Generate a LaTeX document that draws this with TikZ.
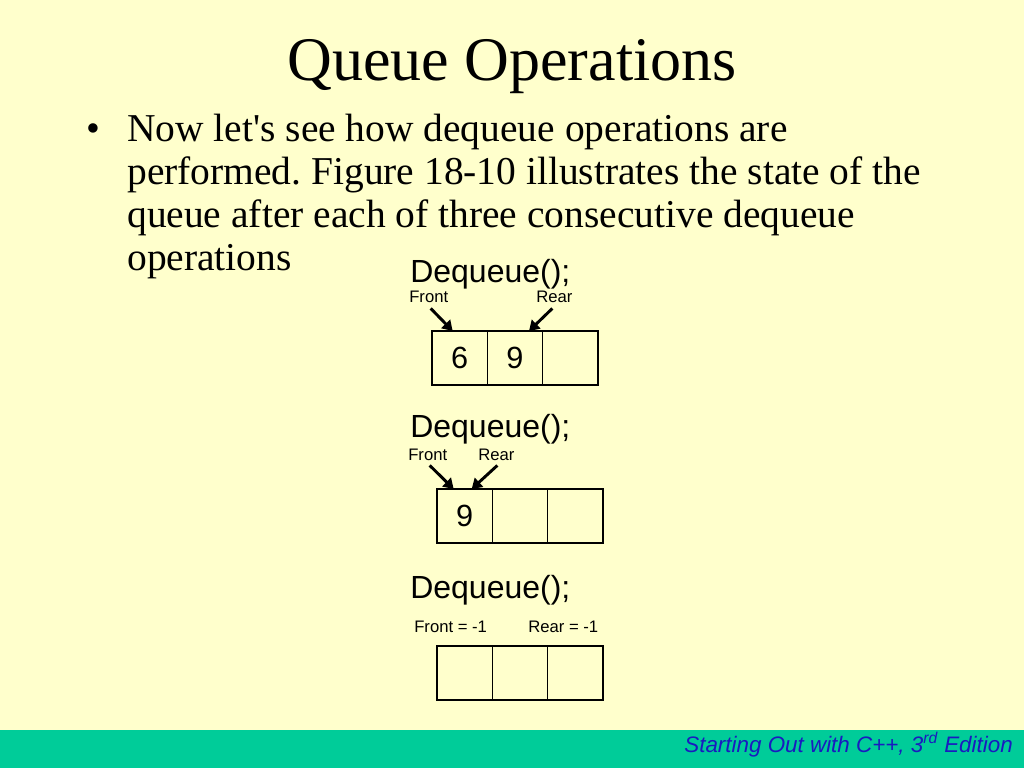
\documentclass[tikz,border=0pt]{standalone}
\usepackage{fontspec}
\setmainfont{Liberation Serif}
\newfontfamily\helv{Liberation Sans}
\usetikzlibrary{positioning,arrows.meta}
\definecolor{slidebg}{HTML}{FFFFCC}
\definecolor{footbar}{HTML}{00CC99}
\definecolor{foottext}{HTML}{1A1AC0}
\frenchspacing
\tikzset{
  cell/.style={draw, line width=1.1pt, minimum width=41.5pt, minimum height=40.5pt,
    outer sep=0pt, inner sep=0pt, font=\helv\fontsize{23}{23}\selectfont},
  ptr/.style={-{Triangle[length=7.5pt,width=9pt]}, line width=2.2pt},
  opname/.style={anchor=base west, inner sep=0pt, font=\helv\fontsize{24}{24}\selectfont},
  idx/.style={anchor=base west, inner sep=0pt, font=\helv\fontsize{12.5}{12.5}\selectfont},
  bodyline/.style={anchor=base west, inner sep=0pt, font=\fontsize{29.6}{29.6}\selectfont},
}
\begin{document}
\begin{tikzpicture}[x=0.75pt,y=-0.75pt]
    \fill[slidebg] (0,0) rectangle (1024,768);
    \fill[footbar] (0,730) rectangle (1024,768);
    \useasboundingbox (0,0) rectangle (1024,768);
    \node[anchor=base, inner sep=0pt, font=\fontsize{46.5}{46.5}\selectfont] (title) at (512,80) {Queue Operations};
    \node[bodyline, anchor=base] (bullet) at (93,141) {\textbullet};
    \node[bodyline] (body1) at (127,141) {Now let\textquotesingle s see how dequeue operations are};
    \node[bodyline] (body2) at (127,184) {performed. Figure 18-10 illustrates the state of the};
    \node[bodyline] (body3) at (127,227) {queue after each of three consecutive dequeue};
    \node[bodyline] (body4) at (127,270) {operations};
    % first dequeue
    \node[opname] (op1) at (410,282) {Dequeue();};
    \node[idx] (front1) at (409,302) {Front};
    \node[idx] (rear1) at (536,302) {Rear};
    \node[cell, anchor=north west] (q1a) at (432,331) {6};
    \node[cell, right=0pt of q1a] (q1b) {9};
    \node[cell, right=0pt of q1b] (q1c) {};
    \draw[ptr] ([shift={(2,6)}]front1.south) -- ([shift={(-7,0)}]q1a.north);
    \draw[ptr] ([shift={(-2,6)}]rear1.south) -- ([shift={(14,0)}]q1b.north);
    % second dequeue
    \node[opname] (op2) at (410,437) {Dequeue();};
    \node[idx] (front2) at (408,460) {Front};
    \node[idx] (rear2) at (478,460) {Rear};
    \node[cell, anchor=north west] (q2a) at (437,489) {9};
    \node[cell, right=0pt of q2a] (q2b) {};
    \node[cell, right=0pt of q2b] (q2c) {};
    \draw[ptr] ([shift={(2,5)}]front2.south) -- ([shift={(-11,0)}]q2a.north);
    \draw[ptr] ([shift={(1,5)}]rear2.south) -- ([shift={(7,0)}]q2a.north);
    % third dequeue
    \node[opname] (op3) at (410,598) {Dequeue();};
    \node[idx] (front3) at (414,632) {Front = -1};
    \node[idx] (rear3) at (528,632) {Rear = -1};
    \node[cell, anchor=north west] (q3a) at (437,646) {};
    \node[cell, right=0pt of q3a] (q3b) {};
    \node[cell, right=0pt of q3b] (q3c) {};
    \node[anchor=base east, inner sep=0pt, text=foottext,
      font=\helv\itshape\fontsize{16.8}{16.8}\selectfont] (footer) at (1013,752)
      {Starting Out with C++, 3\textsuperscript{rd} Edition};
\end{tikzpicture}
\end{document}
